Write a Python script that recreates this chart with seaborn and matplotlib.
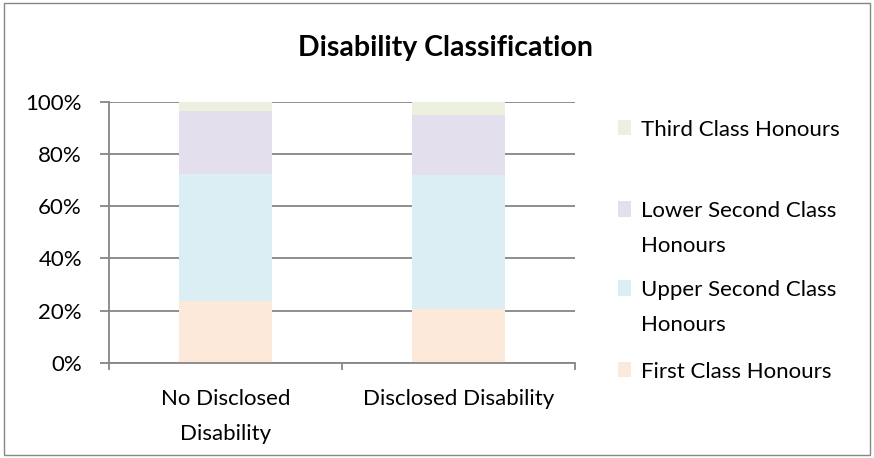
import matplotlib
matplotlib.use("Agg")
import matplotlib.pyplot as plt
import seaborn as sns
import pandas as pd
import numpy as np
from matplotlib.patches import Rectangle, Patch

categories = ["No Disclosed\nDisability", "Disclosed Disability"]
series = ["First Class Honours", "Upper Second Class Honours",
          "Lower Second Class Honours", "Third Class Honours"]
first = [23.8, 20.7]
upper = [48.5, 51.3]
lower = [24.0, 22.8]
third = [3.7, 5.2]
colors = ["#FDE9D9", "#DAEEF3", "#E4DFEC", "#EBF1DE"]
legend_labels = ["Third Class Honours", "Lower Second Class\nHonours",
                 "Upper Second Class\nHonours", "First Class Honours"]

sns.set_theme(style="white")
plt.rcParams["font.family"] = ["Lato", "DejaVu Sans"]
plt.rcParams["text.color"] = "#000000"

W, H = 874, 458
fig = plt.figure(figsize=(W / 100, H / 100), dpi=100)
ax = fig.add_axes([109 / W, 1 - 363 / H, (575 - 109) / W, (363 - 101.7) / H])

vals = np.array([first, upper, lower, third])
cum = np.cumsum(vals, axis=0)
for i in range(len(series) - 1, -1, -1):
    df = pd.DataFrame({"cat": categories, "val": cum[i]})
    sns.barplot(data=df, x="cat", y="val", color=colors[i], width=0.4,
                saturation=1, ax=ax, zorder=2, linewidth=0)

FS = 16
LS = 1.9
ax.set_ylim(0, 100)
ax.set_xlim(-0.5, 1.5)
ax.set_yticks(np.arange(0, 101, 20))
ax.set_yticklabels([f"{v}%" for v in range(0, 101, 20)], fontsize=FS, color="#000000")
ax.yaxis.grid(True, color="#868686", linewidth=1.3, zorder=0)
ax.set_axisbelow(True)
ax.set_xticks([0, 1])
ax.set_xticklabels(categories, fontsize=FS, color="#000000", linespacing=LS)
ax.tick_params(axis="x", length=0, pad=19)
ax.tick_params(axis="y", length=6.5, width=1.3, color="#868686", left=True, pad=13)
ax.set_xticks([-0.5, 0.5, 1.5], minor=True)
ax.tick_params(axis="x", which="minor", length=5, width=1.3, color="#868686",
               bottom=True, direction="out")
ax.set_xlabel("")
ax.set_ylabel("")
for s in ["top", "right"]:
    ax.spines[s].set_visible(False)
for s in ["left", "bottom"]:
    ax.spines[s].set_color("#868686")
    ax.spines[s].set_linewidth(1.3)

fig.text(446 / W, 1 - 48 / H, "Disability Classification", ha="center", va="center",
         fontsize=20.5, fontweight="bold", color="#000000")

# legend: one entry per block, placed like the original
centers = [130, 228.5, 307.5, 372]
order = [3, 2, 1, 0]
for lab, ci, yc in zip(legend_labels, order, centers):
    h = Patch(facecolor=colors[ci], edgecolor="none")
    leg = fig.legend([h], [lab], loc="center left", bbox_to_anchor=(618 / W, 1 - yc / H),
                     frameon=False, fontsize=FS, handlelength=0.6, handleheight=0.68,
                     handletextpad=0.45, borderpad=0, borderaxespad=0)
    for tx in leg.get_texts():
        tx.set_linespacing(LS)
        tx.set_color("#000000")
    for col in leg._legend_handle_box.get_children():
        for item in col.get_children():
            item.align = "top"

fig.patches.append(Rectangle((4 / W, 3 / H), (W - 8) / W, (H - 6) / H,
                             transform=fig.transFigure, fill=False,
                             edgecolor="#868686", linewidth=1))

fig.savefig("out.png", dpi=100)
